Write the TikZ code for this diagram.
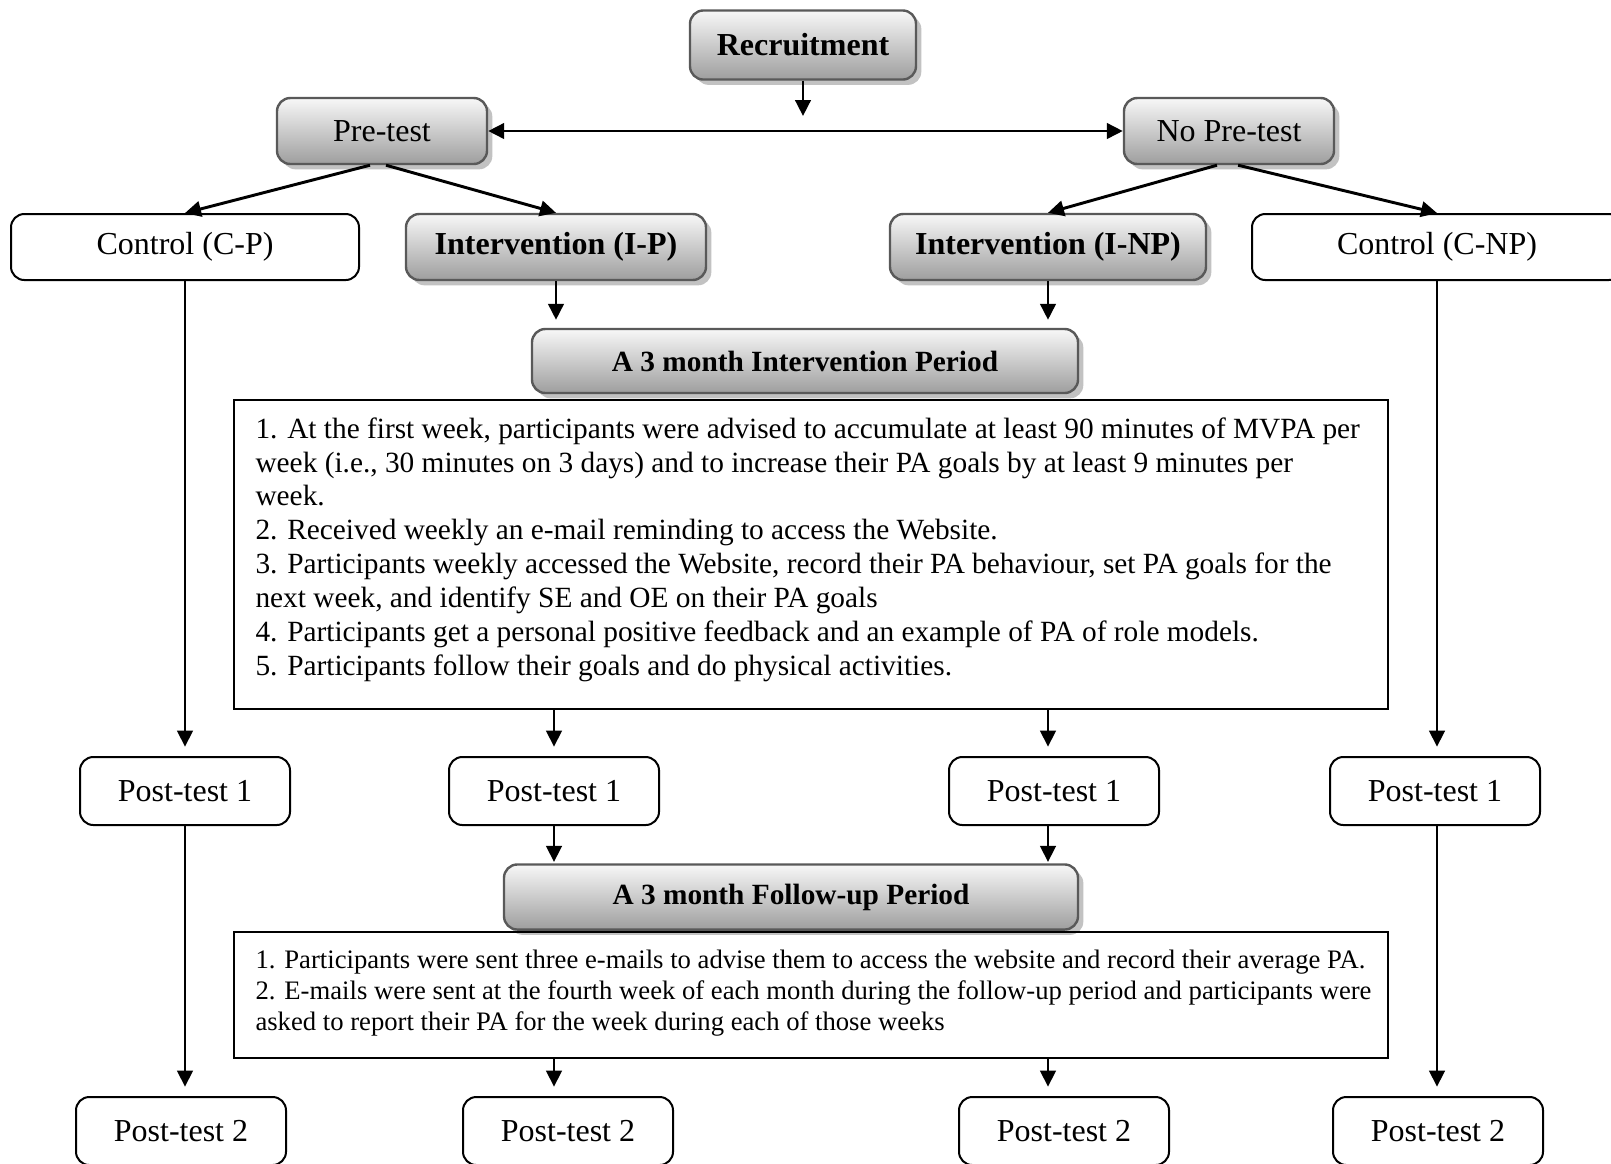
\documentclass[tikz,border=0pt]{standalone}
\usepackage{fontspec}
\setmainfont{Liberation Serif}
\usetikzlibrary{shadows,arrows.meta}

\begin{document}
\begin{tikzpicture}[x=0.375pt, y=-0.375pt,
        >={Triangle[length=6pt,width=5.8pt]},
        link/.style={->, line width=1.1pt},
        shadebox/.style={draw=black!65, line width=0.9pt, rounded corners=5pt,
            top color=black!3, bottom color=black!38,
            drop shadow={shadow xshift=2pt, shadow yshift=-2pt, fill=black!40, opacity=0.6},
            minimum height=24.75pt, font=\fontsize{12}{14}\selectfont},
        plainbox/.style={draw, line width=0.75pt, rounded corners=5pt, fill=white,
            minimum height=24.75pt, font=\fontsize{12}{14}\selectfont},
        listbox/.style={draw, line width=0.75pt},
        bold/.style={font=\fontsize{12}{14}\selectfont\bfseries}]
        \useasboundingbox (0,0) rectangle (1611,1163);
        \clip (0,0) rectangle (1611,1163);

        \node[shadebox, bold, minimum width=84.75pt, minimum height=25.9pt] (rec) at (803,45) {Recruitment};
        \node[shadebox, minimum width=78.75pt] (pre) at (382,131) {Pre-test};
        \node[shadebox, minimum width=78.75pt] (nopre) at (1229,131) {No Pre-test};

        \node[plainbox, minimum width=130.5pt] (cp) at (185,247) {Control (C-P)};
        \node[shadebox, bold, minimum width=112.5pt] (ip) at (556,247) {Intervention (I-P)};
        \node[shadebox, bold, minimum width=118.5pt] (inp) at (1048,247) {Intervention (I-NP)};
        \node[plainbox, minimum width=138.75pt] (cnp) at (1437,247) {Control (C-NP)};

        \node[shadebox, minimum width=204.75pt, minimum height=24pt, font=\fontsize{11}{13}\selectfont\bfseries] (ivp) at (805,361) {A 3 month Intervention Period};
        \node[listbox, minimum width=432.75pt, minimum height=115.9pt] (ivbox) at (811,554.5) {};
        \node[anchor=north west, align=left, inner sep=0pt, font=\fontsize{11}{12.7}\selectfont] (ivlist) at (255,417) {1. At the first week, participants were advised to accumulate at least 90 minutes of MVPA per\\
week (i.e., 30 minutes on 3 days) and to increase their PA goals by at least 9 minutes per\\
week.\\
2. Received weekly an e-mail reminding to access the Website.\\
3. Participants weekly accessed the Website, record their PA behaviour, set PA goals for the\\
next week, and identify SE and OE on their PA goals\\
4. Participants get a personal positive feedback and an example of PA of role models.\\
5. Participants follow their goals and do physical activities.};

        \node[plainbox, minimum width=78.75pt, minimum height=25.5pt] (pa1) at (185,791) {Post-test 1};
        \node[plainbox, minimum width=78.75pt, minimum height=25.5pt] (pb1) at (554,791) {Post-test 1};
        \node[plainbox, minimum width=78.75pt, minimum height=25.5pt] (pc1) at (1054,791) {Post-test 1};
        \node[plainbox, minimum width=78.75pt, minimum height=25.5pt] (pd1) at (1435,791) {Post-test 1};

        \node[shadebox, minimum width=215.25pt, minimum height=24.4pt, font=\fontsize{11}{13}\selectfont\bfseries] (fup) at (791,897) {A 3 month Follow-up Period};
        \node[listbox, minimum width=432.75pt, minimum height=47.25pt] (fubox) at (811,995) {};
        \node[anchor=north west, align=left, inner sep=0pt, font=\fontsize{10}{11.8}\selectfont] (fulist) at (255,949) {1. Participants were sent three e-mails to advise them to access the website and record their average PA.\\
2. E-mails were sent at the fourth week of each month during the follow-up period and participants were\\
asked to report their PA for the week during each of those weeks};

        \node[plainbox, minimum width=78.75pt, minimum height=25.5pt] (pa2) at (181,1131) {Post-test 2};
        \node[plainbox, minimum width=78.75pt, minimum height=25.5pt] (pb2) at (568,1131) {Post-test 2};
        \node[plainbox, minimum width=78.75pt, minimum height=25.5pt] (pc2) at (1064,1131) {Post-test 2};
        \node[plainbox, minimum width=78.75pt, minimum height=25.5pt] (pd2) at (1438,1131) {Post-test 2};

        \coordinate (split) at (803,116);
        \draw[link] (rec) -- (split);
        \draw[link, <->] (pre) -- (nopre);
        \draw[link] ([xshift=-4.5pt]pre.south) -- (cp.north);
        \draw[link] ([xshift=1.5pt]pre.south) -- (ip.north);
        \draw[link] ([xshift=-4.5pt]nopre.south) -- (inp.north);
        \draw[link] ([xshift=3.4pt]nopre.south) -- (cnp.north);

        \draw[link, shorten >=3pt] (ip.south) -- (ip.south |- ivp.north);
        \draw[link, shorten >=3pt] (inp.south) -- (inp.south |- ivp.north);
        \draw[link, shorten >=3.5pt] (cp.south) -- (cp.south |- pa1.north);
        \draw[link, shorten >=3.5pt] (cnp.south) -- (cnp.south |- pd1.north);
        \draw[link, shorten >=3.5pt] (ivbox.south -| pb1) -- (pb1.north);
        \draw[link, shorten >=3.5pt] (ivbox.south -| inp) -- (inp |- pc1.north);

        \draw[link, shorten >=0.5pt] (pb1.south) -- (pb1.south |- fup.north);
        \draw[link, shorten >=0.5pt] (inp |- pc1.south) -- (inp |- fup.north);
        \draw[link, shorten >=3.5pt] (pa1.south) -- (pa1.south |- pa2.north);
        \draw[link, shorten >=3.5pt] (cnp |- pd1.south) -- (cnp |- pd2.north);
        \draw[link, shorten >=3.5pt] (fubox.south -| pb1) -- (pb1 |- pb2.north);
        \draw[link, shorten >=3.5pt] (fubox.south -| inp) -- (inp |- pc2.north);
    \end{tikzpicture}
\end{document}
